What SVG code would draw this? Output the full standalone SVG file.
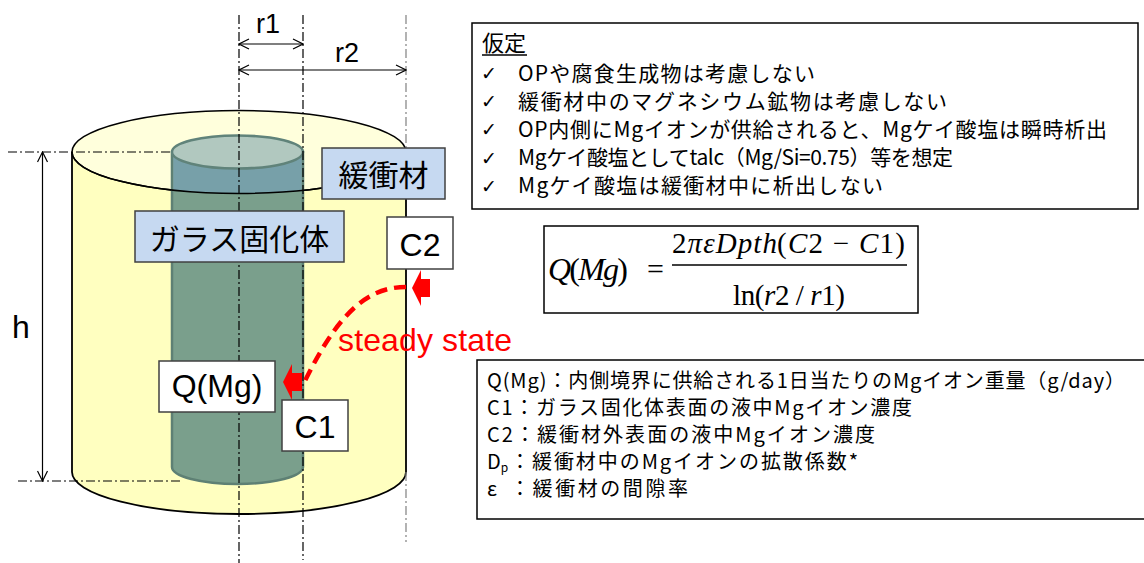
<svg xmlns="http://www.w3.org/2000/svg" width="1144" height="563" viewBox="0 0 1144 563">
  <defs>
    <style>
      .dd{fill:none;stroke:#000;stroke-width:1.2;stroke-dasharray:9 3 2 3}
      .ddg{stroke:#808080}
      .dim{fill:none;stroke:#000;stroke-width:1.2}
      .lbl{font-family:"Liberation Sans",Arial,sans-serif;font-size:32px;fill:#000}
      .jp{font-family:"Noto Sans CJK JP","Noto Sans",sans-serif;fill:#000}
      .tag{fill:#c6d9f1;stroke:#404040;stroke-width:1.5}
      .wbox{fill:#fff;stroke:#404040;stroke-width:1.5}
      .panel{fill:#fff;stroke:#000;stroke-width:1.5}
      .mth{font-family:"Liberation Serif","Times New Roman",serif;fill:#000}
      .it{font-style:italic}
      .chk{font-family:"DejaVu Sans",sans-serif;font-size:19px;fill:#000}
      .flow{fill:none;stroke:#ff0000;stroke-width:4.5;stroke-dasharray:12 7}
      .blk{fill:#ff0000}
    </style>
    <marker id="open" viewBox="0 0 12 12" refX="11" refY="6" markerWidth="12" markerHeight="12" markerUnits="userSpaceOnUse" orient="auto-start-reverse">
      <path d="M1,1 L11,6 L1,11" fill="none" stroke="#000" stroke-width="1.2"/>
    </marker>
    <clipPath id="topFace"><ellipse cx="239" cy="152" rx="167" ry="41.5"/></clipPath>
  </defs>

  <!-- buffer material cylinder -->
  <g id="buffer-cylinder">
    <path d="M72,152 V472 A167,42 0 0 0 406,472 V152 Z" fill="#ffffc0"/>
    <ellipse cx="239" cy="152" rx="167" ry="41.5" fill="#ffffdc" stroke="#000" stroke-width="1.5"/>
    <path d="M72,152 V472 A167,42 0 0 0 406,472 V152" fill="none" stroke="#000" stroke-width="1.8"/>
  </g>

  <!-- vitrified glass cylinder -->
  <g id="glass-cylinder">
    <path d="M172,152 V467 A65.5,17 0 0 0 303,467 V152 Z" fill="#7a9f8c" stroke="#5e8074" stroke-width="2.5"/>
    <rect x="173.3" y="152" width="128.4" height="50" fill="#77a0a9" clip-path="url(#topFace)"/>
    <ellipse cx="237.5" cy="152" rx="65.5" ry="16.5" fill="#b1c8bf" stroke="#60837a" stroke-width="2.5"/>
    <path d="M72,152 A167,41.5 0 0 0 406,152" fill="none" stroke="#000" stroke-width="1.5"/>
  </g>

  <!-- centre / radius guide lines -->
  <g id="guides">
    <line class="dd" x1="239" y1="15" x2="239" y2="563"/>
    <line class="dd" x1="303" y1="15" x2="303" y2="560" stroke="#333"/>
    <line class="dd ddg" x1="406" y1="15" x2="406" y2="152"/>
    <line class="dd ddg" x1="406" y1="472" x2="406" y2="542"/>
    <line class="dd" x1="8" y1="152" x2="172" y2="152"/>
    <line class="dd" x1="18" y1="481" x2="182" y2="481"/>
  </g>

  <!-- dimensions -->
  <g id="dimensions">
    <line class="dim" x1="239" y1="44" x2="303" y2="44" marker-start="url(#open)" marker-end="url(#open)"/>
    <line class="dim" x1="239" y1="70" x2="406" y2="70" marker-start="url(#open)" marker-end="url(#open)"/>
    <line class="dim" x1="42.5" y1="152" x2="42.5" y2="481" marker-start="url(#open)" marker-end="url(#open)"/>
    <text class="lbl" x="256" y="33" style="font-size:27px">r1</text>
    <text class="lbl" x="335" y="62" style="font-size:27px">r2</text>
    <text class="lbl" x="12" y="338">h</text>
  </g>

  <!-- diffusion flux -->
  <g id="connectors">
    <path class="flow" d="M406,287 C368,287 338,312 303,385"/>
    <polygon class="blk" points="412,288 421,270 421,279 430,279 430,297 421,297 421,306"/>
    <polygon class="blk" points="283,382 292,364 292,373 302,373 302,391 292,391 292,400"/>
    <text class="lbl" x="338" y="351" style="fill:#ff0000" textLength="174">steady state</text>
  </g>

  <g id="label-buffer">
    <rect class="tag" x="322" y="148" width="123" height="51"/>
    <text class="jp" x="383.5" y="186" font-size="30" text-anchor="middle">緩衝材</text>
  </g>
  <g id="label-glass">
    <rect class="tag" x="135" y="211" width="209" height="51"/>
    <text class="jp" x="239.5" y="250" font-size="30" text-anchor="middle">ガラス固化体</text>
  </g>
  <g id="label-c2">
    <rect class="wbox" x="387" y="217" width="66" height="52"/>
    <text class="lbl" x="420" y="256" text-anchor="middle">C2</text>
  </g>
  <g id="label-q">
    <rect class="wbox" x="159" y="361" width="116" height="51"/>
    <text class="lbl" x="217" y="397" text-anchor="middle">Q(Mg)</text>
  </g>
  <g id="label-c1">
    <rect class="wbox" x="282" y="400" width="66" height="51"/>
    <text class="lbl" x="315" y="438" text-anchor="middle">C1</text>
  </g>

  <!-- assumptions -->
  <g id="assumptions">
    <rect class="panel" x="472" y="23" width="666" height="186"/>
    <text class="jp" x="482" y="51" font-size="22">仮定</text>
    <line x1="482" y1="55" x2="527" y2="55" stroke="#000" stroke-width="1.5"/>
    <text class="chk" x="481" y="80">✓</text>
    <text class="chk" x="481" y="108">✓</text>
    <text class="chk" x="481" y="136">✓</text>
    <text class="chk" x="481" y="165">✓</text>
    <text class="chk" x="481" y="193">✓</text>
    <text class="jp" x="518" y="80.5" font-size="21" textLength="297">OPや腐食生成物は考慮しない</text>
    <text class="jp" x="518" y="108.5" font-size="21" textLength="429">緩衝材中のマグネシウム鉱物は考慮しない</text>
    <text class="jp" x="518" y="136.5" font-size="21" textLength="589">OP内側にMgイオンが供給されると、Mgケイ酸塩は瞬時析出</text>
    <text class="jp" x="518" y="165" font-size="21" textLength="435">Mgケイ酸塩としてtalc（Mg/Si=0.75）等を想定</text>
    <text class="jp" x="518" y="193" font-size="21" textLength="365">Mgケイ酸塩は緩衝材中に析出しない</text>
  </g>

  <!-- flux equation -->
  <g id="equation">
    <rect class="panel" x="544" y="226" width="374" height="87"/>
    <text class="mth" x="548" y="280" font-size="32" textLength="80"><tspan class="it">Q</tspan>(<tspan class="it">Mg</tspan>)</text>
    <text class="mth" x="647" y="279" font-size="30">=</text>
    <text class="mth" x="672" y="253" font-size="29" textLength="105">2<tspan class="it">πεDpth</tspan></text>
    <text class="mth" x="777" y="253" font-size="29" textLength="128">(<tspan class="it">C</tspan>2 − <tspan class="it">C</tspan>1)</text>
    <line x1="672" y1="265" x2="907" y2="265" stroke="#000" stroke-width="1.3"/>
    <text class="mth" x="733" y="305" font-size="29" textLength="112">ln(<tspan class="it">r</tspan>2 / <tspan class="it">r</tspan>1)</text>
  </g>

  <!-- symbol definitions -->
  <g id="definitions">
    <rect class="panel" x="477" y="360" width="680" height="159"/>
    <text class="jp" x="487" y="388" font-size="20" textLength="638">Q(Mg)：内側境界に供給される1日当たりのMgイオン重量（g/day）</text>
    <text class="jp" x="487" y="415" font-size="20" textLength="425">C1：ガラス固化体表面の液中Mgイオン濃度</text>
    <text class="jp" x="487" y="442" font-size="20" textLength="388">C2：緩衝材外表面の液中Mgイオン濃度</text>
    <text class="jp" x="487" y="469" font-size="20">D<tspan font-size="12" dy="3">p</tspan><tspan dy="-3" x="510" textLength="348">：緩衝材中のMgイオンの拡散係数*</tspan></text>
    <text class="jp" x="487" y="496" font-size="20">ε<tspan x="510" textLength="178">：緩衝材の間隙率</tspan></text>
  </g>
</svg>
